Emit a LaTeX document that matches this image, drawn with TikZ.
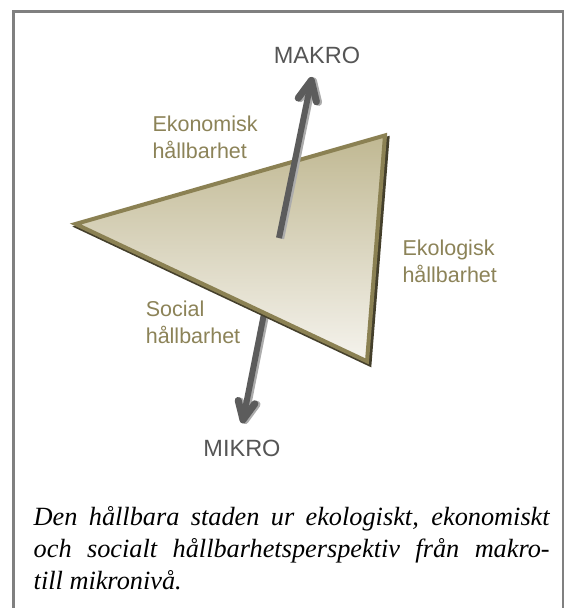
\documentclass[tikz,border=0pt]{standalone}
\usepackage{fontspec}
\setmainfont{Liberation Serif}
\newfontfamily\arialf{Liberation Sans}
\usetikzlibrary{calc}
\definecolor{framegray}{RGB}{128,128,128}
\definecolor{olivetext}{RGB}{140,131,88}
\definecolor{oliveline}{RGB}{139,129,83}
\definecolor{shadowc}{RGB}{68,63,43}
\definecolor{tritop}{RGB}{192,184,146}
\definecolor{tribot}{RGB}{245,243,237}
\definecolor{arrdarkc}{RGB}{92,92,92}
\definecolor{arrlightc}{RGB}{172,172,172}
\definecolor{levtext}{RGB}{85,85,85}
\begin{document}
\begin{tikzpicture}[x=1pt,y=-1pt,
  lbl/.style={anchor=base west, inner sep=0pt, text=olivetext, font=\arialf\fontsize{21.5}{26.6}\selectfont},
  lev/.style={anchor=base, inner sep=0pt, text=levtext, font=\arialf\fontsize{23.5}{28}\selectfont},
  shaftdark/.style={draw=arrdarkc, line width=6pt},
  shaftlight/.style={draw=arrlightc, line width=6pt},
  headdark/.style={draw=arrdarkc, line width=7pt, line join=round, line cap=round},
  headlight/.style={draw=arrlightc, line width=7pt, line join=round, line cap=round},
  tribord/.style={draw=oliveline, line width=4pt, line join=miter},
]
\useasboundingbox (0,0) rectangle (564,608);
\fill[white] (0,0) rectangle (564,608);
\draw[framegray, line width=3pt] (13.5,612) -- (13.5,11.3) -- (563.5,11.3) -- (563.5,612);

% key points
\coordinate (mid) at (279,238);
\coordinate (topTip) at (311.3,80.4);
\coordinate (botTip) at (243,419.9);
\coordinate (midS) at ([xshift=2.2pt,yshift=-0.6pt]mid);
\coordinate (topTipS) at ([xshift=2.2pt,yshift=-0.6pt]topTip);
\coordinate (botTipS) at ([xshift=2.2pt,yshift=-0.6pt]botTip);
\coordinate (tA) at (75.5,224);
\coordinate (tB) at (385,135.4);
\coordinate (tC) at (367,361.3);

% lower arrow (behind the triangle)
\draw[shaftlight] (midS) -- (botTipS);
\draw[headlight] ($(botTipS)!20pt!25:(midS)$) -- (botTipS) -- ($(botTipS)!20pt!-25:(midS)$);
\draw[shaftdark] (mid) -- (botTip);
\draw[headdark] ($(botTip)!20pt!25:(mid)$) -- (botTip) -- ($(botTip)!20pt!-25:(mid)$);

% triangle
\filldraw[shadowc, line width=4pt, line join=miter] ([xshift=2.5pt,yshift=-3pt]tA) -- ([xshift=2.5pt,yshift=-3pt]tB) -- ([xshift=2.5pt,yshift=-3pt]tC) -- cycle;
\shade[top color=tritop, bottom color=tribot] (tA) -- (tB) -- (tC) -- cycle;
\draw[tribord] (tA) -- (tB) -- (tC) -- cycle;

% upper arrow
\draw[shaftlight] (midS) -- (topTipS);
\draw[headlight] ($(topTipS)!22pt!25:(midS)$) -- (topTipS) -- ($(topTipS)!22pt!-25:(midS)$);
\draw[shaftdark] (mid) -- (topTip);
\draw[headdark] ($(topTip)!22pt!25:(mid)$) -- (topTip) -- ($(topTip)!22pt!-25:(mid)$);

% labels
\node[lev] (makro) at (317,63) {MAKRO};
\node[lev] (mikro) at (242,456) {MIKRO};
\node[lbl] (eko) at (152.3,131.7) {\parbox[t]{150pt}{\raggedright Ekonomisk\\hållbarhet}};
\node[lbl] (ekol) at (402.3,255.7) {\parbox[t]{150pt}{\raggedright Ekologisk\\hållbarhet}};
\node[lbl] (soc) at (145.6,316.7) {\parbox[t]{150pt}{\raggedright Social\\hållbarhet}};

% caption
\node[anchor=base west, inner sep=0pt, font=\itshape\fontsize{26.3}{32}\selectfont] (cap) at (33.5,525.4)
  {\parbox[t]{516pt}{Den hållbara staden ur ekologiskt, ekonomiskt\linebreak och socialt hållbarhetsperspektiv från makro-\linebreak till mikronivå.}};
\end{tikzpicture}
\end{document}
